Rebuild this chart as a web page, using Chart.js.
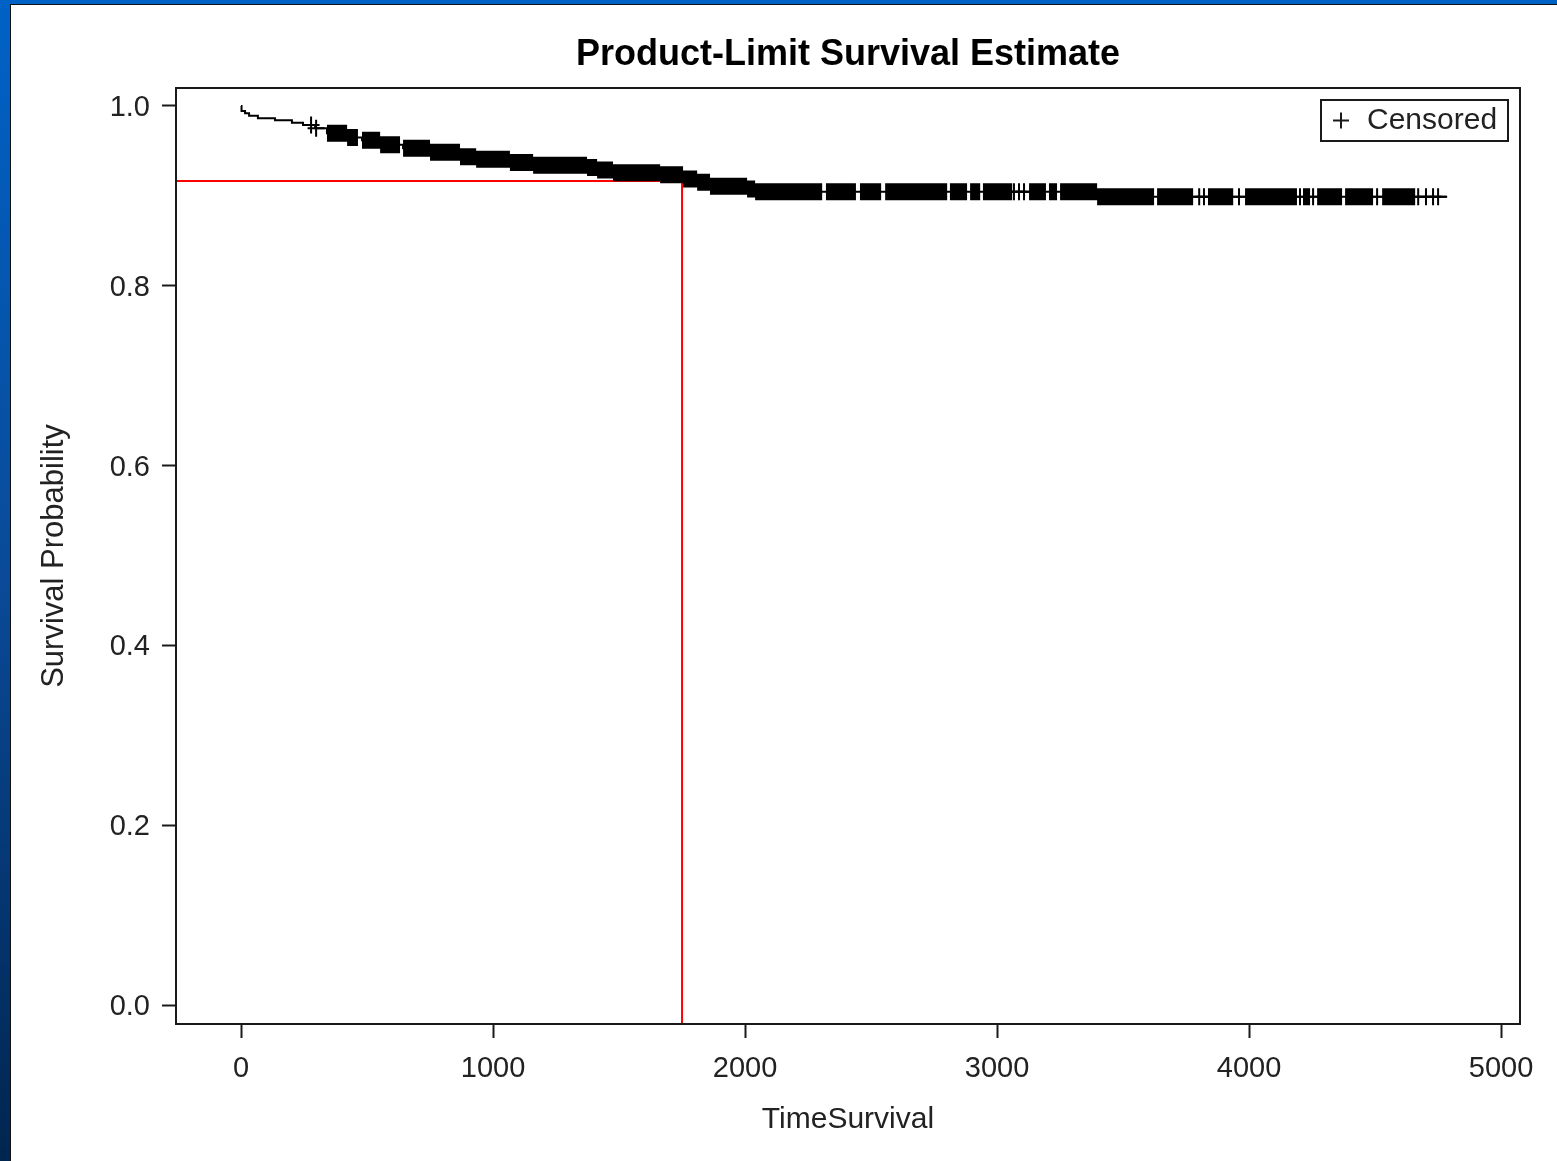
<!DOCTYPE html>
<html>
<head>
<meta charset="utf-8">
<script src="https://cdn.jsdelivr.net/npm/chart.js@4.4.1/dist/chart.umd.min.js"></script>
<style>
  html, body { margin: 0; padding: 0; overflow: hidden; }
  body { width: 1557px; height: 1161px; background: linear-gradient(to bottom, #0062c6 0%, #0a4a98 50%, #00254f 100%); position: relative; }
  #frame { position: absolute; left: 10px; top: 4px; width: 1547px; height: 1157px; background: #111; }
  #wrap { position: absolute; left: 1px; top: 1px; width: 1546px; height: 1156px; background: #fff; }
  canvas { display: block; }
</style>
</head>
<body>
<div id="frame"><div id="wrap"><canvas id="c" width="1546" height="1156"></canvas></div></div>
<script>
// ---- Data ----
const chartTitle = 'Product-Limit Survival Estimate';
const xAxisTitle = 'TimeSurvival';
const yAxisTitle = 'Survival Probability';
const censorLabel = 'Censored';

// Kaplan-Meier step curve: time at which survival changes, and the new survival value
const stepTimes = [0, 2, 16, 32, 67, 135, 202, 246, 294, 341, 421, 480, 552, 643, 750, 869, 933, 1067, 1159, 1373, 1413, 1476, 1663, 1754, 1810, 1861, 2008, 2040, 3397, 4786];
const survival  = [1.0, 0.9944, 0.9919, 0.9892, 0.9863, 0.9841, 0.9814, 0.9789, 0.9752, 0.9696, 0.9650, 0.9618, 0.9570, 0.9530, 0.9485, 0.9436, 0.9408, 0.9371, 0.9340, 0.9316, 0.9288, 0.9257, 0.9236, 0.9188, 0.9151, 0.9107, 0.9077, 0.9046, 0.8991, 0.8991];

// Isolated censoring marks (times)
const censorTimes = [278, 298, 3067, 3087, 3107, 3802, 3821, 3960, 4202, 4254, 4508, 4671, 4702, 4730, 4750];
// Runs of densely packed censoring marks (first and last censored time of each run)
const censorRunStart = [341, 480, 643, 2321, 2456, 2556, 2813, 2893, 2944, 3127, 3206, 3250, 3635, 3837, 3984, 4214, 4270, 4381, 4528];
const censorRunEnd   = [464, 631, 2306, 2440, 2540, 2802, 2881, 2933, 3060, 3194, 3238, 3623, 3778, 3937, 4190, 4242, 4369, 4492, 4659];

// Reference lines (red)
const refTime = 1750;
const refSurvival = 0.9166;

// Axes
const xTicks = [0, 1000, 2000, 3000, 4000, 5000];
const yTicks = [0.0, 0.2, 0.4, 0.6, 0.8, 1.0];
const xMin = -258, xMax = 5075;
const yMin = -0.0211, yMax = 1.02;

// ---- Build datasets ----
function survAt(t) {
  let s = survival[0];
  for (let i = 0; i < stepTimes.length; i++) {
    if (stepTimes[i] <= t) s = survival[i]; else break;
  }
  return s;
}
const curveData = stepTimes.map((t, i) => ({ x: t, y: survival[i] }));
// each run is split into flat pieces, one per survival level it spans
const runData = [];
censorRunStart.forEach((a, r) => {
  const b = censorRunEnd[r];
  for (let i = 0; i < stepTimes.length - 1; i++) {
    const lo = Math.max(a, stepTimes[i]);
    const hi = Math.min(b, stepTimes[i + 1]);
    if (hi > lo) {
      runData.push({ x: lo, y: survival[i] }, { x: hi, y: survival[i] }, { x: hi, y: null });
    }
  }
});
const censorData = censorTimes.map(t => ({ x: t, y: survAt(t) }));
const refData = [{ x: xMin, y: refSurvival }, { x: refTime, y: refSurvival }, { x: refTime, y: yMin }];

const FONT = "'Liberation Sans', Arial, Helvetica, sans-serif";
const INK = '#1a1a1a';

const framePlugin = {
  id: 'frame',
  afterDraw(chart) {
    const { ctx, chartArea: a } = chart;
    ctx.save();
    ctx.strokeStyle = INK;
    ctx.lineWidth = 2;
    ctx.strokeRect(a.left, a.top, a.right - a.left, a.bottom - a.top);
    ctx.restore();
  }
};

const legendPlugin = {
  id: 'censorLegend',
  afterDraw(chart) {
    const { ctx, chartArea: a } = chart;
    const ds = chart.data.datasets.find(d => d.isCensor);
    const w = 187, h = 41;
    const left = a.right - 12 - w, top = a.top + 12;
    ctx.save();
    ctx.fillStyle = '#fff';
    ctx.fillRect(left, top, w, h);
    ctx.strokeStyle = INK;
    ctx.lineWidth = 2;
    ctx.strokeRect(left, top, w, h);
    const cx = left + 20, cy = top + h / 2;
    ctx.beginPath();
    ctx.moveTo(cx - 8, cy); ctx.lineTo(cx + 8, cy);
    ctx.moveTo(cx, cy - 8); ctx.lineTo(cx, cy + 8);
    ctx.stroke();
    ctx.fillStyle = '#222';
    ctx.font = '30px ' + FONT;
    ctx.textBaseline = 'middle';
    ctx.textAlign = 'left';
    ctx.fillText(ds.label, left + 46, cy);
    ctx.restore();
  }
};

new Chart(document.getElementById('c'), {
  type: 'line',
  data: {
    datasets: [
      { label: 'Survival', data: curveData, stepped: 'before', borderColor: '#000', borderWidth: 2, pointRadius: 0, fill: false },
      { label: 'CensorRuns', data: runData, borderColor: '#000', borderWidth: 17, borderCapStyle: 'butt', pointRadius: 0, fill: false, spanGaps: false },
      { label: censorLabel, isCensor: true, data: censorData, showLine: false, pointStyle: 'cross', pointRadius: 8.5, pointBorderWidth: 2, borderColor: '#000', backgroundColor: '#000' },
      { label: 'Reference', data: refData, borderColor: '#ff0000', borderWidth: 2, pointRadius: 0, fill: false, clip: false }
    ]
  },
  options: {
    responsive: false,
    animation: false,
    events: [],
    layout: { padding: { left: 0, right: 37, top: 0, bottom: 0 } },
    plugins: {
      legend: { display: false },
      tooltip: { enabled: false },
      title: {
        display: true, text: chartTitle, fullSize: false, color: '#000',
        font: { family: FONT, size: 36, weight: 'bold' },
        padding: { top: 28, bottom: 11.8 }
      }
    },
    scales: {
      x: {
        type: 'linear', min: xMin, max: xMax,
        afterBuildTicks: s => { s.ticks = xTicks.map(v => ({ value: v })); },
        afterFit: s => { s.height = 137; },
        grid: { drawOnChartArea: false, drawTicks: true, tickLength: 14, tickWidth: 2, tickColor: INK },
        border: { display: true, color: INK, width: 2 },
        ticks: { color: '#222', padding: 14, maxRotation: 0, autoSkip: false, font: { family: FONT, size: 29 }, callback: v => String(v) },
        title: { display: true, text: xAxisTitle, color: '#222', font: { family: FONT, size: 30 }, padding: { top: 0, bottom: 23 } }
      },
      y: {
        type: 'linear', min: yMin, max: yMax,
        afterBuildTicks: s => { s.ticks = yTicks.map(v => ({ value: v })); },
        afterFit: s => { s.width = 165; },
        grid: { drawOnChartArea: false, drawTicks: true, tickLength: 14, tickWidth: 2, tickColor: INK },
        border: { display: true, color: INK, width: 2 },
        ticks: { color: '#222', padding: 12, labelOffset: 2, autoSkip: false, font: { family: FONT, size: 29 }, callback: v => v.toFixed(1) },
        title: { display: true, text: yAxisTitle, color: '#222', font: { family: FONT, size: 31 }, padding: { top: 25, bottom: 0 } }
      }
    }
  },
  plugins: [framePlugin, legendPlugin]
});
</script>
</body>
</html>
